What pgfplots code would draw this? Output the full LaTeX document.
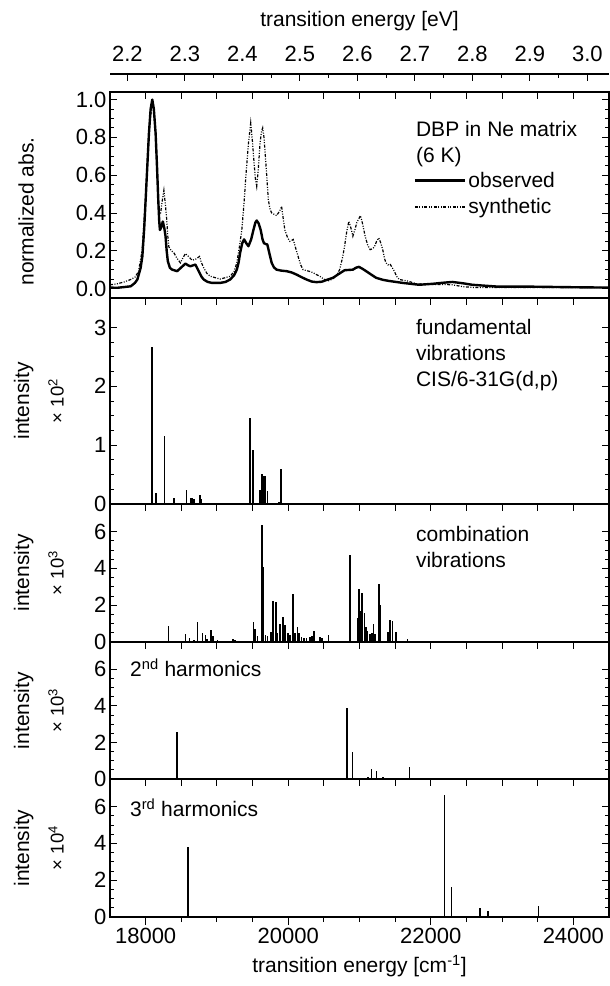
\documentclass[border=0pt]{standalone}
\usepackage{fontspec}
\setmainfont{Liberation Sans}
\usepackage{pgfplots}
\pgfplotsset{compat=1.18}
\newcommand\lab{\fontsize{21}{26}\selectfont}
\newcommand\tlab{\fontsize{22}{26}\selectfont}
\newcommand\sml{\fontsize{18.5}{21}\selectfont}

\pgfplotsset{
  /pgf/number format/assume math mode=true,
  /pgf/number format/set thousands separator={},
  scaled ticks=false,
  panel/.style={
    scale only axis, width=499pt,
    xmin=17500, xmax=24500,
    xtick={18000,18500,...,24000}, xticklabels={},
    xtick pos=right,
    ytick pos=both,
    tick align=inside,
    major tick length=7pt, minor tick length=4pt,
    axis line style={line width=1.1pt},
    every tick/.style={black, line width=0.9pt},
    every minor tick/.style={black, line width=0.9pt},
    tick label style={font=\tlab},
    ylabel style={at={(axis description cs:-0.173,0.5)}, anchor=center, font=\lab},
    clip mode=individual,
  },
}

\begin{document}
\begin{tikzpicture}
\path (0pt,0pt) rectangle (610pt,-986pt);

% top eV axis
\begin{axis}[
  scale only axis, width=499pt, height=20pt,
  at={(110pt,-74pt)}, anchor=north west,
  xmin=2.16972, xmax=3.03761, ymin=0, ymax=1,
  axis x line*=top, hide y axis,
  xtick={2.2,2.3,2.4,2.5,2.6,2.7,2.8,2.9,3.0},
  minor x tick num=1,
  tick align=inside,
  major tick length=7pt, minor tick length=4pt,
  axis line style={line width=1.1pt},
  every tick/.style={black, line width=0.9pt},
  every minor tick/.style={black, line width=0.9pt},
  tick label style={font=\tlab},
  xticklabel style={yshift=9pt, /pgf/number format/.cd, fixed, fixed zerofill, precision=1},
  xlabel={transition energy [eV]},
  xlabel style={font=\lab, yshift=8pt},
]
\end{axis}

% panel 1
\begin{axis}[panel, height=206pt,
  at={(110pt,-92pt)}, anchor=north west,
  ymin=-0.05, ymax=1.04,
  ytick={0,0.2,0.4,0.6,0.8,1.0}, minor y tick num=3,
  yticklabel style={/pgf/number format/.cd, fixed, fixed zerofill, precision=1},
  ylabel={normalized abs.},
  ylabel style={at={(axis description cs:-0.168,0.42)}},
  legend style={draw=none, fill=none, at={(axis description cs:0.608,0.625)}, anchor=north west,
    font=\lab, row sep=5pt, inner sep=0pt, nodes={inner sep=2.5pt}},
  legend cell align=left,
  legend image code/.code={\draw[#1] (0pt,0pt) -- (50pt,0pt);},
]
\addplot[black, line width=2.4pt, line join=round] coordinates {
(17500,0.005) (17600,0.004) (17700,0.008) (17791,0.012) (17850,0.03) (17884,0.048)
(17930,0.11) (17954,0.171) (17980,0.32) (18000,0.47) (18025,0.66) (18046,0.82)
(18070,0.95) (18093,1.0) (18115,0.95) (18140,0.82) (18160,0.64) (18177,0.47)
(18190,0.36) (18200,0.31) (18215,0.32) (18241,0.355) (18262,0.32) (18279,0.277)
(18295,0.2) (18311,0.145) (18340,0.11) (18372,0.10) (18442,0.092) (18500,0.112)
(18558,0.132) (18600,0.122) (18628,0.118) (18698,0.127) (18744,0.092) (18780,0.065)
(18814,0.048) (18870,0.035) (18930,0.03) (19047,0.03) (19120,0.035) (19186,0.048)
(19240,0.07) (19279,0.10) (19305,0.14) (19326,0.19) (19355,0.24) (19381,0.26)
(19412,0.24) (19442,0.224) (19480,0.26) (19512,0.31) (19540,0.35) (19558,0.36)
(19585,0.345) (19614,0.31) (19640,0.26) (19660,0.24) (19690,0.235) (19707,0.233)
(19740,0.18) (19768,0.136) (19800,0.112) (19837,0.10) (19900,0.095) (19977,0.092)
(20050,0.085) (20116,0.074) (20200,0.058) (20256,0.048) (20330,0.037) (20396,0.034)
(20470,0.036) (20535,0.045) (20628,0.057) (20700,0.075) (20791,0.097) (20907,0.10)
(20950,0.11) (20991,0.115) (21040,0.105) (21093,0.092) (21160,0.075) (21233,0.057)
(21330,0.046) (21419,0.04) (21605,0.03) (21837,0.02) (22023,0.025) (22150,0.03)
(22302,0.035) (22450,0.028) (22581,0.02) (22800,0.014) (22953,0.01) (23419,0.01)
(24000,0.007) (24500,0.005)
};
\addlegendentry{observed}
\addplot[black, line width=1.2pt, dash pattern=on 3pt off 1.5pt on 1pt off 1.5pt on 1pt off 1.5pt] coordinates {
(17500,0.02) (17600,0.025) (17700,0.035) (17791,0.048) (17850,0.06) (17900,0.09)
(17950,0.2) (18000,0.48) (18046,0.82) (18093,1.0) (18140,0.83) (18170,0.55)
(18186,0.40) (18210,0.40) (18235,0.47) (18256,0.52) (18275,0.45) (18293,0.38)
(18310,0.28) (18326,0.22) (18360,0.2) (18395,0.19) (18440,0.16) (18488,0.136)
(18520,0.16) (18558,0.185) (18600,0.17) (18651,0.15) (18700,0.155) (18756,0.17)
(18780,0.14) (18814,0.11) (18860,0.08) (18907,0.065) (19047,0.05) (19186,0.065)
(19240,0.09) (19279,0.136) (19315,0.22) (19349,0.31) (19380,0.45) (19409,0.61)
(19440,0.76) (19474,0.877) (19500,0.77) (19521,0.666) (19540,0.58) (19558,0.54)
(19580,0.63) (19605,0.77) (19625,0.83) (19642,0.85) (19660,0.80) (19674,0.73)
(19700,0.59) (19721,0.47) (19745,0.42) (19768,0.40) (19837,0.386) (19880,0.41)
(19907,0.435) (19930,0.37) (19953,0.31) (19990,0.27) (20023,0.25) (20050,0.255)
(20070,0.26) (20100,0.22) (20139,0.17) (20175,0.125) (20209,0.10) (20326,0.088)
(20442,0.065) (20500,0.05) (20558,0.04) (20620,0.05) (20680,0.07) (20721,0.10)
(20760,0.16) (20791,0.224) (20820,0.30) (20851,0.356) (20880,0.32) (20907,0.277)
(20935,0.31) (20963,0.35) (21014,0.386) (21045,0.34) (21079,0.277) (21115,0.23)
(21149,0.206) (21180,0.21) (21209,0.22) (21240,0.25) (21270,0.268) (21300,0.24)
(21326,0.206) (21350,0.16) (21372,0.136) (21400,0.125) (21428,0.13) (21460,0.11)
(21488,0.092) (21520,0.065) (21558,0.048) (21674,0.04) (21800,0.025) (22000,0.022)
(22150,0.022) (22300,0.02) (22450,0.01) (22600,0.006) (23000,0.006) (24500,0.005)
};
\addlegendentry{synthetic}
\node[anchor=north west, align=left, inner sep=0pt, font=\lab] at (axis description cs:0.613,0.86)
  {DBP in Ne matrix\\(6 K)};
\end{axis}

% panel 2: fundamental
\begin{axis}[panel, height=206pt,
  at={(110pt,-298pt)}, anchor=north west,
  ymin=0, ymax=3.5,
  ytick={0,1,2,3}, minor y tick num=3,
  ylabel={intensity},
]
\addplot[ycomb, black, line width=1.7pt] coordinates {
(18093,2.66) (18144,0.19) (18265,1.16) (18325,0.02) (18395,0.10) (18572,0.24)
(18637,0.11) (18656,0.10) (18679,0.08) (18758,0.16) (18777,0.08) (19084,0.02)
(19372,0.02) (19465,1.46) (19502,0.91) (19604,0.24) (19628,0.51) (19665,0.48)
(19679,0.48) (19711,0.22) (19790,0.02) (19874,0.04) (19897,0.59)
};
\node[rotate=90, font=\sml, anchor=center] at (axis description cs:-0.108,0.5) {× 10\textsuperscript{2}};
\node[anchor=north west, align=left, inner sep=0pt, font=\lab] at (axis description cs:0.613,0.9)
  {fundamental\\vibrations\\CIS/6-31G(d,p)};
\end{axis}

% panel 3: combination
\begin{axis}[panel, height=138pt,
  at={(110pt,-504pt)}, anchor=north west,
  ymin=0, ymax=7.5,
  ytick={0,2,4,6}, minor y tick num=3,
  ylabel={intensity},
]
\addplot[ycomb, black, line width=1.6pt] coordinates {
(18321,0.87) (18451,0.05) (18558,0.44) (18614,0.24) (18679,0.10) (18730,1.07)
(18800,0.51) (18842,0.38) (18860,0.14) (18921,0.65) (18944,0.33) (19009,0.10)
(19056,0.05) (19102,0.06) (19150,0.04) (19223,0.14) (19256,0.10) (19300,0.04)
(19340,0.03) (19380,0.03) (19511,1.07) (19535,0.69) (19570,0.30) (19632,6.38)
(19656,4.05) (19679,0.38) (19711,0.33) (19758,0.56) (19777,1.07) (19786,2.24)
(19828,2.20) (19846,0.50) (19884,1.00) (19930,1.38) (19953,0.95) (20000,0.51)
(20023,0.38) (20070,2.62) (20093,0.50) (20130,0.80) (20153,0.50) (20186,0.29)
(20220,0.20) (20256,0.22) (20302,0.27) (20335,0.31) (20358,0.58) (20442,0.29)
(20474,0.22) (20563,0.40) (20650,0.05) (20720,0.04) (20870,4.75) (20977,1.29)
(20995,2.87) (21014,1.69) (21037,2.69) (21070,1.60) (21093,0.80) (21111,0.58)
(21149,0.45) (21172,0.51) (21195,0.98) (21218,0.45) (21270,3.16) (21293,2.02)
(21400,0.53) (21428,1.20) (21465,1.15) (21511,0.53) (21674,0.14)
};
\node[rotate=90, font=\sml, anchor=center] at (axis description cs:-0.108,0.5) {× 10\textsuperscript{3}};
\node[anchor=north west, align=left, inner sep=0pt, font=\lab] at (axis description cs:0.613,0.84)
  {combination\\vibrations};
\end{axis}

% panel 4: 2nd harmonics
\begin{axis}[panel, height=137pt,
  at={(110pt,-642pt)}, anchor=north west,
  ymin=0, ymax=7.5,
  ytick={0,2,4,6}, minor y tick num=3,
  ylabel={intensity},
]
\addplot[ycomb, black, line width=1.6pt] coordinates {
(18195,0.07) (18437,2.58) (19032,0.07) (20828,3.87) (20902,1.50) (21121,0.10)
(21167,0.54) (21237,0.42) (21330,0.10) (21702,0.67)
};
\node[rotate=90, font=\sml, anchor=center] at (axis description cs:-0.108,0.5) {× 10\textsuperscript{3}};
\node[anchor=north west, align=left, inner sep=0pt, font=\lab] at (axis description cs:0.04,0.88)
  {2\textsuperscript{nd} harmonics};
\end{axis}

% panel 5: 3rd harmonics
\begin{axis}[panel, height=138pt,
  at={(110pt,-779pt)}, anchor=north west,
  ymin=0, ymax=7.5,
  ytick={0,2,4,6}, minor y tick num=3,
  ylabel={intensity},
]
\addplot[ycomb, black, line width=1.6pt] coordinates {
(18591,3.78) (22195,6.65) (22293,1.61) (22628,0.03) (22688,0.49) (22804,0.34)
(22944,0.03) (23511,0.58)
};
\node[rotate=90, font=\sml, anchor=center] at (axis description cs:-0.108,0.5) {× 10\textsuperscript{4}};
\node[anchor=north west, align=left, inner sep=0pt, font=\lab] at (axis description cs:0.04,0.86)
  {3\textsuperscript{rd} harmonics};
\end{axis}

% bottom cm axis
\begin{axis}[
  scale only axis, width=499pt, height=138pt,
  at={(110pt,-779pt)}, anchor=north west,
  xmin=17500, xmax=24500, ymin=0, ymax=1,
  axis x line*=bottom, hide y axis,
  xtick={18000,20000,22000,24000},
  minor x tick num=3,
  tick align=outside,
  major tick length=8pt, minor tick length=5pt,
  axis line style={line width=1.1pt},
  every tick/.style={black, line width=0.9pt},
  every minor tick/.style={black, line width=0.9pt},
  tick label style={font=\tlab},
  xlabel={transition energy [cm\textsuperscript{-1}]},
  xlabel style={font=\lab, yshift=-4pt},
]
\end{axis}
\end{tikzpicture}
\end{document}
